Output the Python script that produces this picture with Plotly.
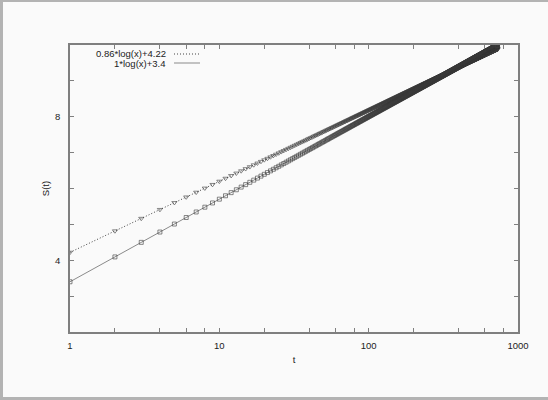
import numpy as np
import plotly.graph_objects as go

# ---- data (fit functions stated in the chart legend) ----
legend_labels = ["0.86*log(x)+4.22", "1*log(x)+3.4"]
slopes = [0.86, 1.0]
intercepts = [4.22, 3.4]
t_values = np.arange(1, 731)          # integer time steps 1..730
x_tick_vals = [1, 2, 4, 6, 8, 10, 20, 40, 60, 80, 100, 200, 400, 600, 800, 1000]
x_tick_text = ["1", "", "", "", "", "10", "", "", "", "", "100", "", "", "", "", "1000"]
y_tick_vals = [2, 3, 4, 5, 6, 7, 8, 9, 10]
y_tick_text = ["", "", "4", "", "", "", "8", "", ""]

series_y = [s * np.log(t_values) + c for s, c in zip(slopes, intercepts)]

W, H = 548, 400
L, R, T, B = 70, 518, 45, 332
FONT = "Liberation Sans, Arial, Helvetica, sans-serif"
BG = "#fafafa"
FRAME = "#b3b3b3"

fig = go.Figure()
symbols = ["triangle-down-open", "square-open"]
dashes = ["1px,2px", "solid"]
line_colors = ["#444444", "#8a8a8a"]
for i in range(2):
    fig.add_trace(go.Scatter(
        x=t_values, y=series_y[i], mode="lines",
        line=dict(color=line_colors[i], width=1, dash=dashes[i]),
        showlegend=False, hoverinfo="skip"))
    fig.add_trace(go.Scatter(
        x=t_values, y=series_y[i], mode="markers",
        marker=dict(symbol=symbols[i], size=4 if i == 1 else 4.5,
                    color="#3a3a3a", line=dict(color="#3a3a3a", width=0.6)),
        showlegend=False))

def px_x(px):
    return (px - L) / (R - L)

def px_y(py):
    return (B - py) / (B - T)

shapes = [
    # gray page frame: left, top, bottom strips
    dict(type="rect", xref="paper", yref="paper", layer="below",
         x0=px_x(-5), x1=px_x(3), y0=px_y(-5), y1=px_y(H + 5),
         fillcolor=FRAME, line=dict(width=0)),
    dict(type="rect", xref="paper", yref="paper", layer="below",
         x0=px_x(-5), x1=px_x(W + 5), y0=px_y(2), y1=px_y(-5),
         fillcolor=FRAME, line=dict(width=0)),
    dict(type="rect", xref="paper", yref="paper", layer="below",
         x0=px_x(-5), x1=px_x(W + 5), y0=px_y(H + 5), y1=px_y(397),
         fillcolor=FRAME, line=dict(width=0)),
]
annotations = []
leg_y = [54, 63]
for i in range(2):
    annotations.append(dict(
        text=legend_labels[i], xref="paper", yref="paper",
        x=px_x(168), y=px_y(leg_y[i]), xanchor="right", yanchor="middle",
        showarrow=False, font=dict(family=FONT, size=9.5, color="#222222")))
    shapes.append(dict(type="line", xref="paper", yref="paper",
                       x0=px_x(174), x1=px_x(200), y0=px_y(leg_y[i]), y1=px_y(leg_y[i]),
                       line=dict(color=line_colors[i], width=1, dash=dashes[i])))

axis_common = dict(
    showline=True, linecolor="#7f7f7f", linewidth=1.5, mirror="ticks",
    ticks="inside", ticklen=4, tickcolor="#7f7f7f", tickwidth=1,
    showgrid=False, zeroline=False,
    tickfont=dict(family=FONT, size=9.5, color="#222222"),
)

fig.update_layout(
    width=W, height=H,
    margin=dict(l=L, r=W - R, t=T, b=H - B),
    paper_bgcolor=BG, plot_bgcolor=BG,
    font=dict(family=FONT, size=9.5, color="#222222"),
    showlegend=False,
    shapes=shapes, annotations=annotations,
    xaxis=dict(type="log", range=[0, 3], tickmode="array",
               tickvals=x_tick_vals, ticktext=x_tick_text,
               title=dict(text="t", standoff=6, font=dict(family=FONT, size=9.5)),
               ticklabelstandoff=4, **axis_common),
    yaxis=dict(range=[2, 10], tickmode="array",
               tickvals=y_tick_vals, ticktext=y_tick_text,
               title=dict(text="S(t)", standoff=4, font=dict(family=FONT, size=9.5)),
               ticklabelstandoff=6, **axis_common),
)

fig.write_html("out.html", config={"displayModeBar": False},
               post_script="document.body.style.margin='0';document.body.style.overflow='hidden';")
